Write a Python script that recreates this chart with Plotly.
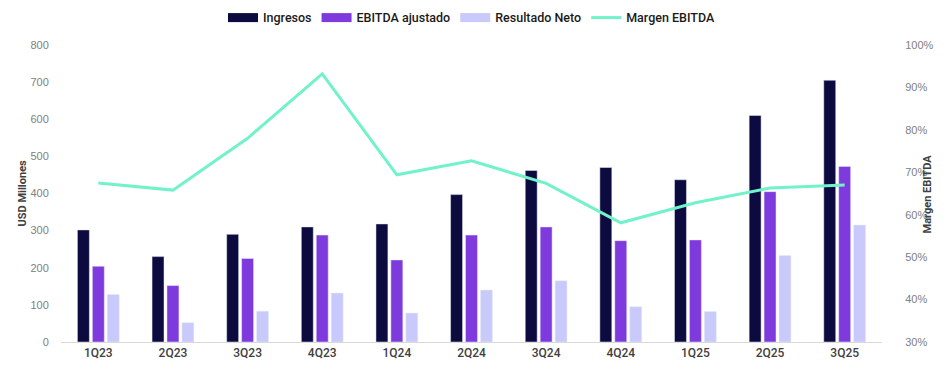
import plotly.graph_objects as go

quarters = ["1Q23", "2Q23", "3Q23", "4Q23", "1Q24", "2Q24", "3Q24", "4Q24", "1Q25", "2Q25", "3Q25"]
ingresos = [302, 230, 290, 310, 318, 397, 462, 470, 437, 610, 705]
ebitda = [204, 152, 225, 288, 221, 288, 310, 273, 275, 405, 473]
neto = [128, 52, 83, 132, 78, 140, 165, 95, 82, 233, 315]
margen = [67.5, 65.8, 78.0, 93.2, 69.4, 72.7, 67.4, 58.1, 62.8, 66.3, 67.0]

names = ["Ingresos", "EBITDA ajustado", "Resultado Neto"]
colors = ["#0c0a3e", "#7f3ade", "#cac9fb"]

fig = go.Figure()
for nm, vals, c in zip(names, [ingresos, ebitda, neto], colors):
    fig.add_trace(go.Bar(x=quarters, y=vals, name=nm, marker_color=c,
                         legendgroup=nm, showlegend=False))
    fig.add_trace(go.Scatter(x=[None], y=[None], name=nm, mode="lines",
                             line=dict(color=c, width=9), legendgroup=nm))
fig.add_trace(go.Scatter(x=quarters, y=margen, name="Margen EBITDA", mode="lines",
                         line=dict(color="#72f2c9", width=3), yaxis="y2"))

title_font = dict(size=11, color="#404040", weight="bold", family="Roboto")
fig.update_layout(
    width=950, height=375,
    margin=dict(l=53, r=76, t=37, b=41, autoexpand=False),
    plot_bgcolor="white", paper_bgcolor="white",
    barmode="group", bargap=0.4, bargroupgap=0.2,
    font=dict(family="Roboto", color="#404040"),
    legend=dict(orientation="h", x=0.5, xanchor="center", y=1.091, yanchor="middle",
                font=dict(size=12.5, color="#1a1a1a", weight=500),
                traceorder="normal", itemwidth=30, tracegroupgap=0),
    xaxis=dict(showgrid=False, showline=True, linecolor="#d9d9d9", linewidth=1,
               tickfont=dict(size=12, color="#404040", weight=500), ticks=""),
    yaxis=dict(range=[0, 800], dtick=100, showgrid=False, zeroline=False,
               tickfont=dict(size=11, color="#808080", family="Liberation Sans"),
               ticks="outside", ticklen=9, tickcolor="rgba(0,0,0,0)"),
    yaxis2=dict(range=[30, 100], dtick=10, overlaying="y", side="right", showgrid=False,
                zeroline=False, ticksuffix="%", ticks="outside", ticklen=20,
                tickcolor="rgba(0,0,0,0)",
                tickfont=dict(size=11, color="#808080", family="Liberation Sans")),
    annotations=[
        dict(text="USD Millones", xref="paper", yref="paper", x=-0.0475, y=0.5,
             textangle=-90, showarrow=False, font=title_font, xanchor="center", yanchor="middle"),
        dict(text="Margen EBITDA", xref="paper", yref="paper", x=1.056, y=0.5,
             textangle=-90, showarrow=False, font=title_font, xanchor="center", yanchor="middle"),
    ],
)
fig.write_html("out.html")
